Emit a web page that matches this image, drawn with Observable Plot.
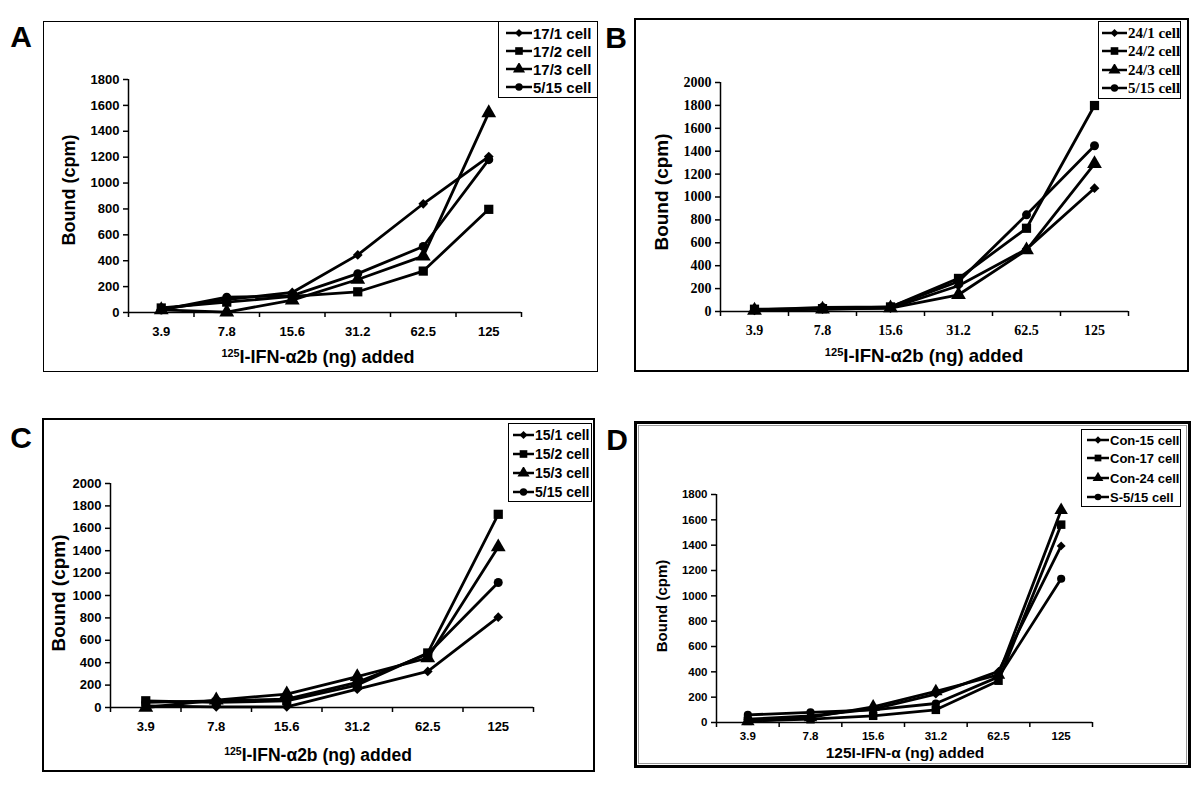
<!DOCTYPE html>
<html><head><meta charset="utf-8">
<script src="https://cdn.jsdelivr.net/npm/d3@7"></script>
<script src="https://cdn.jsdelivr.net/npm/@observablehq/plot@0.6"></script>
<style>
body{margin:0;background:#fff;}
#root{position:relative;width:1200px;height:794px;overflow:hidden;font-family:Arial,"Liberation Sans",sans-serif;color:#000;}
.box{position:absolute;box-sizing:border-box;}
.lbl{position:absolute;font-weight:bold;white-space:nowrap;transform:translate(-50%,-50%);line-height:1;}
.ytitle{position:absolute;font-weight:bold;white-space:nowrap;transform:translate(-50%,-50%) rotate(-90deg);line-height:1;}
.legend{position:absolute;box-sizing:border-box;background:#fff;font-weight:bold;}
.legend .row{position:absolute;left:0;display:flex;align-items:center;white-space:nowrap;}
svg{position:absolute;}
</style></head><body><div id="root"></div>
<script>
// ---- data ----
const doses = ["3.9", "7.8", "15.6", "31.2", "62.5", "125"];
const symbolNames = ["diamond2", "square", "triangle", "circle"];

const seriesA = ["17/1 cell", "17/2 cell", "17/3 cell", "5/15 cell"];
const a171 = [25, 100, 155, 445, 840, 1205];
const a172 = [35, 80, 125, 160, 320, 797];
const a173 = [20, 3, 95, 255, 435, 1542];
const a515 = [20, 118, 130, 300, 510, 1181];

const seriesB = ["24/1 cell", "24/2 cell", "24/3 cell", "5/15 cell"];
const b241 = [10, 20, 30, 225, 545, 1077];
const b242 = [20, 25, 40, 289, 727, 1799];
const b243 = [10, 20, 30, 146, 537, 1290];
const b515 = [15, 35, 40, 262, 844, 1448];

const seriesC = ["15/1 cell", "15/2 cell", "15/3 cell", "5/15 cell"];
const c151 = [15, 6, 6, 164, 322, 806];
const c152 = [60, 45, 60, 200, 487, 1725];
const c153 = [0, 66, 120, 275, 442, 1433];
const c515 = [45, 60, 75, 224, 478, 1116];

const seriesD = ["Con-15 cell", "Con-17 cell", "Con-24 cell", "S-5/15 cell"];
const dCon15 = [26, 53, 106, 224, 404, 1394];
const dCon17 = [13, 26, 53, 100, 330, 1562];
const dCon24 = [8, 40, 124, 245, 377, 1676];
const dS515 = [60, 80, 100, 150, 360, 1135];

const yTicksA = d3.range(0, 1801, 200);
const yTicksB = d3.range(0, 2001, 200);
const yTicksC = d3.range(0, 2001, 200);
const yTicksD = d3.range(0, 1801, 200);

const sans = "Arial, 'Liberation Sans', sans-serif";
const serif = "'Times New Roman', 'Liberation Serif', serif";
const root = document.getElementById("root");

function el(tag, cls, style, html) {
  const e = document.createElement(tag);
  if (cls) e.className = cls;
  Object.assign(e.style, style || {});
  if (html != null) e.innerHTML = html;
  root.appendChild(e);
  return e;
}

function drawPanel(p) {
  const [bx, by, bw, bh] = p.box;
  el("div", "box", {left: bx + "px", top: by + "px", width: bw + "px", height: bh + "px", border: p.border});
  if (p.inner) el("div", "box", {left: (bx + 4) + "px", top: (by + 4) + "px", width: (bw - 8) + "px", height: (bh - 8) + "px", border: p.inner});

  const rows = p.series.flatMap((s, k) => p.values[k].map((v, i) => ({s, x: i + 0.5, v})));
  const ymax = p.yTicks[p.yTicks.length - 1];
  const chart = Plot.plot({
    width: bw, height: bh,
    marginLeft: p.axis[0] - bx, marginRight: bx + bw - p.axis[1],
    marginTop: p.axis[2] - by, marginBottom: by + bh - p.axis[3],
    x: {type: "linear", domain: [0, 6]},
    y: {domain: [0, ymax]},
    style: {fontFamily: p.tickFont, fontWeight: "bold", fontSize: p.tickSize + "px", color: "#000", background: "transparent", overflow: "visible"},
    marks: [
      Plot.axisY(p.yTicks, {tickSize: 5, tickPadding: 4, tickFormat: d => String(d), label: null, strokeWidth: 1.5}),
      Plot.axisX(d3.range(0, 7), {tickSize: 5, tickFormat: () => "", label: null, strokeWidth: 1.5}),
      Plot.axisX(d3.range(6).map(i => i + 0.5), {tickSize: 0, tickPadding: p.xPad, tickFormat: d => doses[Math.floor(d)], label: null}),
      Plot.ruleX([0], {strokeWidth: 1.5}),
      Plot.ruleY([0], {strokeWidth: 1.5}),
      Plot.line(rows, {x: "x", y: "v", z: "s", stroke: "#000", strokeWidth: 2.8}),
      ...p.series.map((s, k) => Plot.dot(rows.filter(r => r.s === s), {x: "x", y: "v", symbol: symbolNames[k], fill: "#000", stroke: "none", r: p.r[k]}))
    ]
  });
  chart.style.left = bx + "px";
  chart.style.top = by + "px";
  root.appendChild(chart);

  el("div", "lbl", {left: p.letter[0] + "px", top: p.letter[1] + "px", fontSize: "30px"}, p.letterText);
  el("div", "ytitle", {left: p.ytitle[0] + "px", top: p.ytitle[1] + "px", fontSize: p.ytitle[2] + "px"}, "Bound (cpm)");
  el("div", "lbl", {left: p.xtitle[0] + "px", top: p.xtitle[1] + "px", fontSize: p.xtitle[2] + "px"}, p.xtitleText);

  const [lx, ly, lw, lh] = p.legend;
  const lg = el("div", "legend", {left: lx + "px", top: ly + "px", width: lw + "px", height: lh + "px", border: "1.5px solid #000", fontFamily: p.legFont, fontSize: p.legSize + "px"});
  p.series.forEach((s, k) => {
    const row = document.createElement("div");
    row.className = "row";
    row.style.top = (p.legRows[k] - 9) + "px";
    row.style.height = "18px";
    row.style.left = p.legPad + "px";
    const sym = d3.symbol(d3["symbol" + symbolNames[k][0].toUpperCase() + symbolNames[k].slice(1)], Math.PI * p.legR[k] * p.legR[k])();
    row.innerHTML = `<span style="display:inline-block;position:relative;width:${p.legLine}px;height:12px;"><svg width="${p.legLine}" height="12" style="left:0;top:0"><line x1="0" x2="${p.legLine}" y1="6" y2="6" stroke="#000" stroke-width="2.5"/><path d="${sym}" transform="translate(${p.legLine / 2},6)" fill="#000"/></svg></span><span style="margin-left:1px">${s}</span>`;
    lg.appendChild(row);
  });
}

const supTitle = `<span style="font-size:0.6em;position:relative;top:-0.55em">125</span>I-IFN-&alpha;2b (ng) added`;

drawPanel({
  box: [43, 21, 555, 351], border: "1.5px solid #000",
  axis: [128, 521, 79, 312], yTicks: yTicksA,
  series: seriesA, values: [a171, a172, a173, a515],
  tickFont: sans, tickSize: 13, xPad: 14, r: [4.4, 5.2, 5.5, 4.5],
  letter: [21, 37], letterText: "A",
  ytitle: [69, 190, 18], xtitle: [318, 357, 18], xtitleText: supTitle,
  legend: [498, 21, 100, 77], legFont: sans, legSize: 15, legRows: [11, 29, 47, 65], legPad: 7, legLine: 26, legR: [3.6, 4.3, 4.5, 3.7]
});

drawPanel({
  box: [634, 18, 555, 354], border: "2px solid #000",
  axis: [720, 1128, 82, 311], yTicks: yTicksB,
  series: seriesB, values: [b241, b242, b243, b515],
  tickFont: serif, tickSize: 14, xPad: 14, r: [4.4, 5.2, 5.5, 4.5],
  letter: [616, 38], letterText: "B",
  ytitle: [661, 192, 19], xtitle: [924, 356, 18.5], xtitleText: supTitle,
  legend: [1098, 21, 83, 78], legFont: serif, legSize: 15, legRows: [11, 29, 48, 66], legPad: 3, legLine: 25, legR: [3.6, 4.3, 4.5, 3.7]
});

drawPanel({
  box: [42, 418, 553, 354], border: "2px solid #000",
  axis: [110, 533, 483, 707], yTicks: yTicksC,
  series: seriesC, values: [c151, c152, c153, c515],
  tickFont: sans, tickSize: 13, xPad: 14, r: [4.4, 5.2, 5.5, 4.5],
  letter: [21, 438], letterText: "C",
  ytitle: [58, 593, 19], xtitle: [318, 756, 17.5], xtitleText: supTitle,
  legend: [508, 423, 84, 79], legFont: sans, legSize: 14, legRows: [11, 30, 49, 68], legPad: 4, legLine: 21, legR: [3.6, 4.3, 4.5, 3.7]
});

drawPanel({
  box: [634, 421, 557, 347], border: "3px solid #000", inner: "1px solid #999",
  axis: [716, 1092, 494, 722], yTicks: yTicksD,
  series: seriesD, values: [dCon15, dCon17, dCon24, dS515],
  tickFont: sans, tickSize: 11.5, xPad: 9, r: [4, 4.8, 5, 4.1],
  letter: [617, 440], letterText: "D",
  ytitle: [661, 606, 15], xtitle: [905, 753, 15.5], xtitleText: "125I-IFN-&alpha; (ng) added",
  legend: [1081, 429, 100, 78], legFont: sans, legSize: 13, legRows: [10, 28, 48, 67], legPad: 5, legLine: 22, legR: [3.3, 3.8, 4, 3.3]
});
</script>
</body></html>
